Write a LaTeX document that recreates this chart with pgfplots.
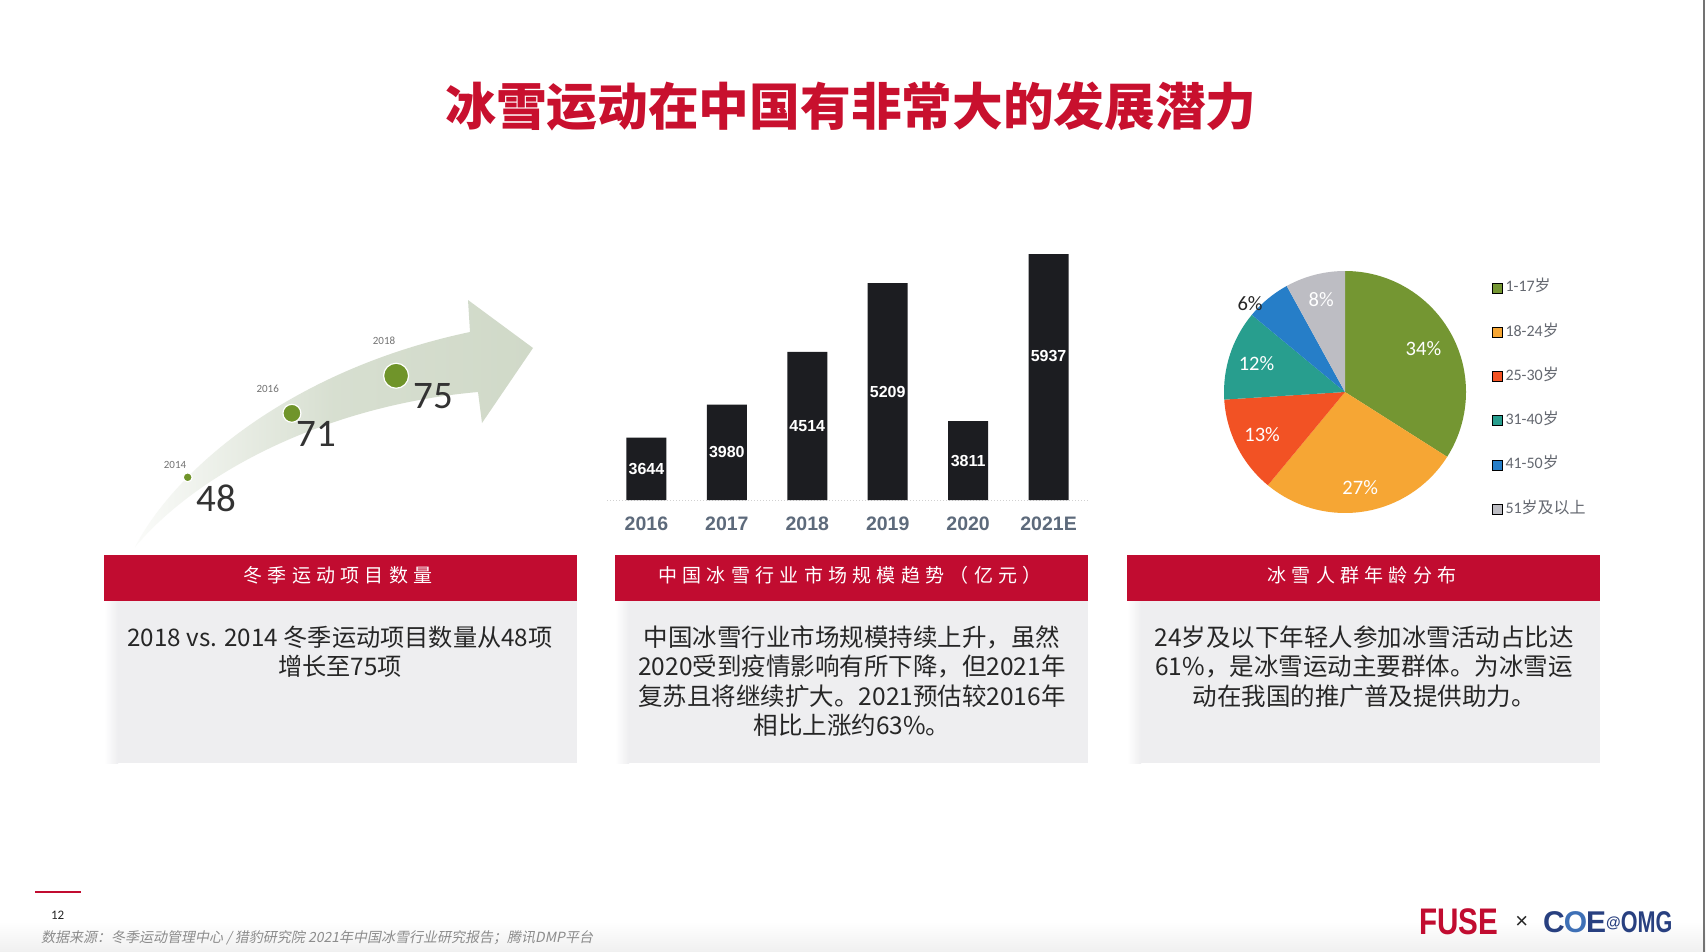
\documentclass[border=0pt]{standalone}
\usepackage{fontspec}
\usepackage{pgfplots}
\pgfplotsset{compat=1.18}
\setmainfont{Noto Sans CJK SC}
\newfontfamily\carl{Carlito}
\newfontfamily\lib{Liberation Sans}
\newfontfamily\fuse{Liberation Sans}[FakeStretch=0.8]
\newfontfamily\omg{Liberation Sans}[FakeStretch=0.72]
\newfontfamily\src{Noto Sans CJK SC}[FakeSlant=0.2]
\newfontfamily\hdr{Noto Sans CJK SC}[LetterSpace=28]
\definecolor{titlered}{RGB}{200,16,46}
\definecolor{hdrred}{RGB}{193,12,48}
\definecolor{boxgray}{RGB}{238,238,240}
\definecolor{barblack}{RGB}{28,29,33}
\definecolor{tickgray}{RGB}{93,106,123}
\definecolor{bubgreen}{RGB}{112,148,42}
\definecolor{arrowc}{RGB}{208,217,200}
\definecolor{pgreen}{RGB}{116,150,50}
\definecolor{porange}{RGB}{246,166,52}
\definecolor{pred}{RGB}{242,82,36}
\definecolor{pteal}{RGB}{40,158,142}
\definecolor{pblue}{RGB}{38,126,200}
\definecolor{pgray}{RGB}{189,189,195}
\definecolor{navy}{RGB}{40,64,128}
\definecolor{lblue}{RGB}{62,112,182}
\definecolor{bodytext}{RGB}{38,38,38}
\definecolor{leggray}{RGB}{100,104,112}
\newcommand{\pieslice}[3]{\fill[#3] (axis cs:0,0) -- ++({90-3.6*(#1)}:121pt) arc[start angle={90-3.6*(#1)}, end angle={90-3.6*(#1+#2)}, radius=121pt] -- cycle;}
\newcommand{\pielabel}[5]{\path (axis cs:0,0) ++({90-3.6*(#1+#2/2)+#5}:#3) node[text=#4, font=\carl\fontsize{20.5}{22}\selectfont] {#2\%};}
\begin{document}
\begin{tikzpicture}[x=1pt,y=1pt]
\fill[white] (0,0) rectangle (1706,-952);
% footer band and right edge
\shade[top color=white, bottom color=black!6] (0,-922) rectangle (1706,-952);
\draw[black!55, line width=1.5pt] (1704,0) -- (1704,-952);
% title
\node[font=\bfseries\fontsize{50.7}{56}\selectfont, text=titlered] at (851,-106) {冰雪运动在中国有非常大的发展潜力};

% ---------- left panel: arrow + bubbles ----------
\shade[left color=arrowc!10!white, right color=arrowc, middle color=arrowc!85!white]
 (135,-547) .. controls (175,-470) and (290,-370) .. (470,-332) -- (468,-300) -- (533,-348) -- (482,-423) -- (478,-392)
 .. controls (330,-405) and (200,-470) .. (135,-547) -- cycle;
\begin{axis}[at={(135.6pt,-480.7pt)}, anchor=south west, scale only axis,
  width=312.6pt, height=181.47pt, xmin=2013, xmax=2019, ymin=40, ymax=80,
  y coord trafo/.code={\pgfmathparse{exp(#1/9.3)}},
  y coord inv trafo/.code={\pgfmathparse{9.3*ln(#1)}},
  hide axis, clip=false]
\addplot[scatter, only marks, mark=*,
  scatter/use mapped color={draw=white, fill=bubgreen},
  mark options={line width=1.2pt},
  visualization depends on={\thisrow{r}\as\rr},
  scatter/@pre marker code/.append style={/tikz/mark size=\rr}]
  table {
year count r
2014 48 4.5
2016 71 9
2018 75 12.5
};
\node[font=\carl\fontsize{39}{40}\selectfont, text=black!80, xshift=29pt, yshift=-20.7pt] at (axis cs:2014,48) {48};
\node[font=\carl\fontsize{39}{40}\selectfont, text=black!80, xshift=24.1pt, yshift=-20.7pt] at (axis cs:2016,71) {71};
\node[font=\carl\fontsize{39}{40}\selectfont, text=black!80, xshift=36.9pt, yshift=-20.3pt] at (axis cs:2018,75) {75};
\node[font=\carl\fontsize{11}{12}\selectfont, text=black!55, xshift=-12.7pt, yshift=12.3pt] at (axis cs:2014,48) {2014};
\node[font=\carl\fontsize{11}{12}\selectfont, text=black!55, xshift=-24.2pt, yshift=24.3pt] at (axis cs:2016,71) {2016};
\node[font=\carl\fontsize{11}{12}\selectfont, text=black!55, xshift=-12.1pt, yshift=35pt] at (axis cs:2018,75) {2018};
\end{axis}

% ---------- middle panel: bars ----------
\begin{axis}[at={(607pt,-500pt)}, anchor=south west, scale only axis,
  width=481pt, height=246pt, xmin=-0.49, xmax=5.49, ymin=3013, ymax=5505,
  ybar, bar width=40pt,
  axis x line*=bottom, axis y line=none,
  x axis line style={draw=black!18, dotted, line width=1pt, -},
  xtick={0,1,2,3,4,5}, xticklabels={2016,2017,2018,2019,2020,2021E},
  major tick length=0pt,
  xticklabel style={font=\lib\bfseries\fontsize{19.5}{20}\selectfont, text=tickgray, inner sep=0pt, yshift=-16.5pt}]
\addplot[fill=barblack, draw=none] table {
x y
0 3644
1 3980
2 4514
3 5209
4 3811
5 5937
};
\node[font=\lib\bfseries\fontsize{16}{17}\selectfont, text=white] at (axis cs:0,3328.5) {3644};
\node[font=\lib\bfseries\fontsize{16}{17}\selectfont, text=white] at (axis cs:1,3496.5) {3980};
\node[font=\lib\bfseries\fontsize{16}{17}\selectfont, text=white] at (axis cs:2,3763.5) {4514};
\node[font=\lib\bfseries\fontsize{16}{17}\selectfont, text=white] at (axis cs:3,4111) {5209};
\node[font=\lib\bfseries\fontsize{16}{17}\selectfont, text=white] at (axis cs:4,3412) {3811};
\node[font=\lib\bfseries\fontsize{16}{17}\selectfont, text=white] at (axis cs:5,4475) {5937};
\end{axis}

% ---------- right panel: pie ----------
\begin{axis}[at={(1224pt,-513pt)}, anchor=south west, scale only axis,
  width=242pt, height=242pt, xmin=-1, xmax=1, ymin=-1, ymax=1,
  hide axis, clip=false,
  legend style={at={(1.107,0.971)}, anchor=north west, draw=none, fill=none,
    inner sep=0pt, row sep=25.3pt, font=\fontsize{16}{18}\selectfont, text=leggray,
    nodes={inner sep=1.5pt, text height=12pt, text depth=4pt},
    /tikz/every odd column/.append style={column sep=1.5pt}},
  legend cell align=left,
  legend image code/.code={\fill[#1] (0pt,-5pt) rectangle (10pt,5pt);}]
\pieslice{0}{34}{pgreen}
\pieslice{34}{27}{porange}
\pieslice{61}{13}{pred}
\pieslice{74}{12}{pteal}
\pieslice{86}{6}{pblue}
\pieslice{92}{8}{pgray}
\pielabel{0}{34}{89.5pt}{white}{0}
\pielabel{34}{27}{97pt}{white}{0}
\pielabel{61}{13}{93pt}{white}{0}
\pielabel{74}{12}{93pt}{white}{0}
\pielabel{86}{6}{130pt}{black!85}{7.3}
\pielabel{92}{8}{95.6pt}{white}{0}
\addlegendimage{fill=pgreen}
\addlegendimage{fill=porange}
\addlegendimage{fill=pred}
\addlegendimage{fill=pteal}
\addlegendimage{fill=pblue}
\addlegendimage{fill=pgray}
\legend{{\carl 1-17}岁,{\carl 18-24}岁,{\carl 25-30}岁,{\carl 31-40}岁,{\carl 41-50}岁,{\carl 51}岁及以上}
\end{axis}

% ---------- headers and text boxes ----------
\foreach \xa/\xb in {104/577, 615/1088, 1127/1600}{
  \fill[hdrred] (\xa,-555) rectangle (\xb,-601);
  \fill[boxgray] (\xa+14,-601) rectangle (\xb,-763);
  \shade[left color=white, right color=boxgray] (\xa,-601) rectangle (\xa+14,-763);
}
\node[font=\hdr\fontsize{19}{20}\selectfont, text=white] at (338,-575) {冬季运动项目数量};
\node[font=\hdr\fontsize{19}{20}\selectfont, text=white] at (850,-575) {中国冰雪行业市场规模趋势（亿元）};
\node[font=\hdr\fontsize{19}{20}\selectfont, text=white] at (1362,-575) {冰雪人群年龄分布};

\node[font=\fontsize{24.2}{29.5}\selectfont, text=bodytext, align=center] at (340,-652) {2018 vs. 2014 冬季运动项目数量从48项\\增长至75项};
\node[font=\fontsize{24.5}{29.5}\selectfont, text=bodytext, align=center] at (852,-681) {中国冰雪行业市场规模持续上升，虽然\\2020受到疫情影响有所下降，但2021年\\复苏且将继续扩大。2021预估较2016年\\相比上涨约63\%。};
\node[font=\fontsize{24.5}{29.5}\selectfont, text=bodytext, align=center] at (1364,-666.5) {24岁及以下年轻人参加冰雪活动占比达\\61\%，是冰雪运动主要群体。为冰雪运\\动在我国的推广普及提供助力。};

% ---------- footer ----------
\draw[hdrred, line width=1.5pt] (35,-892) -- (80.5,-892);
\node[font=\carl\fontsize{13}{14}\selectfont, text=black!85] at (57.7,-915) {12};
\node[anchor=west, font=\src\fontsize{14}{15}\selectfont, text=black!45, inner sep=0pt] at (41,-938) {数据来源：冬季运动管理中心 / 猎豹研究院 2021年中国冰雪行业研究报告；腾讯DMP平台};
\node[font=\fuse\bfseries\fontsize{37}{37}\selectfont, text=hdrred] at (1458.7,-921.7) {FUSE};
\node[font=\lib\fontsize{22}{22}\selectfont, text=black!85] at (1521.7,-922) {×};
\node[anchor=west, font=\lib\bfseries\fontsize{30}{30}\selectfont, inner sep=0pt] at (1543,-922) {\textcolor{navy}{C}\kern-1pt\textcolor{lblue}{O}\kern-1pt\textcolor{navy}{E}\raisebox{5pt}{\textcolor{navy}{\fontsize{15}{15}\selectfont @}}\textcolor{navy}{\omg\bfseries OMG}};
\pgfresetboundingbox
\path[use as bounding box] (0,0) rectangle (1706,-952);
\end{tikzpicture}
\end{document}
